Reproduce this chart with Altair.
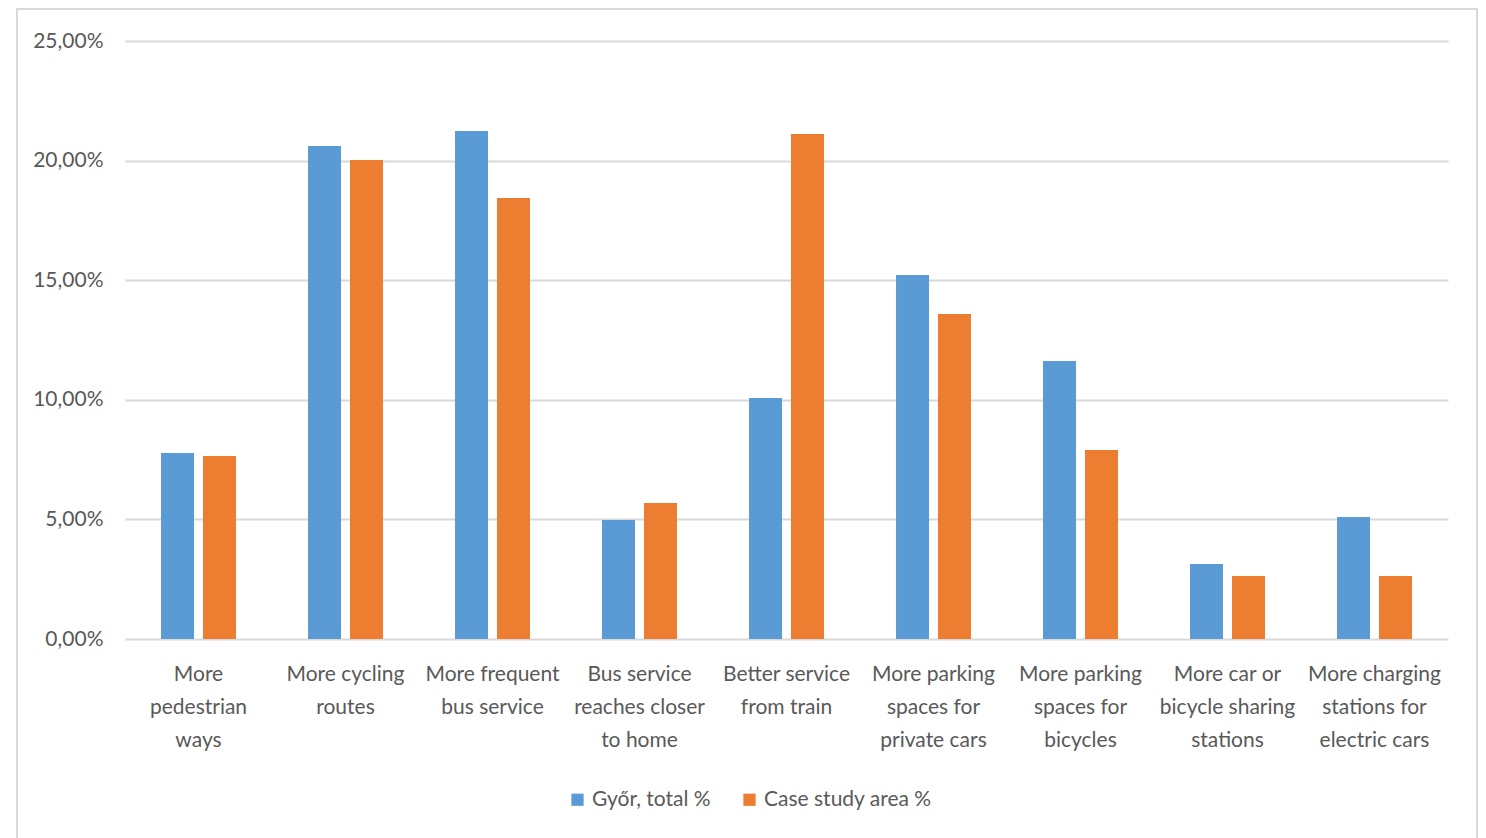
import altair as alt
import pandas as pd

categories = [
    "More|pedestrian|ways",
    "More cycling|routes",
    "More frequent|bus service",
    "Bus service|reaches closer|to home",
    "Better service|from train",
    "More parking|spaces for|private cars",
    "More parking|spaces for|bicycles",
    "More car or|bicycle sharing|stations",
    "More charging|stations for|electric cars",
]
series = ["Győr, total %", "Case study area %"]
gyor = [7.78, 20.61, 21.24, 4.97, 10.08, 15.22, 11.62, 3.14, 5.10]
case_area = [7.65, 20.03, 18.44, 5.69, 21.11, 13.59, 7.90, 2.63, 2.63]
colors = ["#5B9BD5", "#ED7D31"]

rows = []
for c, g, a in zip(categories, gyor, case_area):
    rows.append({"cat": c, "series": series[0], "value": g})
    rows.append({"cat": c, "series": series[1], "value": a})
df = pd.DataFrame(rows)

FONT = "Lato"
GREY = "#595959"

bars = alt.Chart(df).mark_bar().encode(
    x=alt.X("cat:N", sort=categories,
            scale=alt.Scale(paddingInner=0.49, paddingOuter=0.245),
            axis=alt.Axis(title=None, labelAngle=0, ticks=False, domain=False,
                          labelExpr="split(datum.label, '|')",
                          labelFont=FONT, labelFontSize=21, labelColor=GREY,
                          labelLineHeight=33, labelPadding=24, labelBaseline="top",
                          labelLimit=200)),
    xOffset=alt.XOffset("series:N", sort=series,
                        scale=alt.Scale(paddingInner=0.214, paddingOuter=0)),
    y=alt.Y("value:Q", scale=alt.Scale(domain=[0, 25]),
            axis=alt.Axis(title=None, values=[0, 5, 10, 15, 20, 25],
                          labelExpr="replace(format(datum.value, '.2f'), '.', ',') + '%'",
                          ticks=False, domain=False, gridColor="#D9D9D9", gridWidth=2,
                          labelFont=FONT, labelFontSize=21, labelColor=GREY, labelPadding=22)),
    color=alt.Color("series:N", sort=series,
                    scale=alt.Scale(domain=series, range=colors),
                    legend=alt.Legend(title=None, orient="none", direction="horizontal",
                                      legendX=442, legendY=748, symbolType="square",
                                      symbolSize=150, symbolStrokeWidth=0,
                                      labelFont=FONT, labelFontSize=21, labelColor=GREY,
                                      labelLimit=400, columnPadding=28, labelOffset=4)),
)

frame = alt.Chart(pd.DataFrame({"a": [0]})).mark_rect(
    fill=None, stroke="#D9D9D9", strokeWidth=2
).encode(x=alt.value(-108), x2=alt.value(1352), y=alt.value(-32), y2=alt.value(820))

chart = alt.layer(frame, bars).properties(
    width=1323, height=598,
    padding={"left": 125, "top": 41, "right": 38, "bottom": 199},
    autosize=alt.AutoSizeParams(type="none"),
    background="white",
).configure_view(stroke=None)

chart.save("out.html", embed_options={"renderer": "svg", "actions": False})
